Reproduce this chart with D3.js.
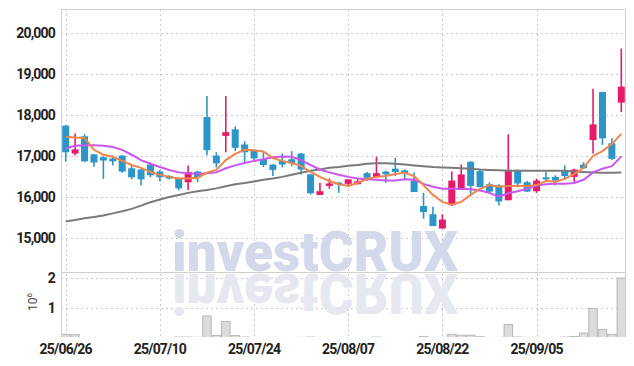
<!DOCTYPE html>
<html>
<head>
<meta charset="utf-8">
<script src="https://cdn.jsdelivr.net/npm/d3@7"></script>
<style>
  body { margin: 0; background: #fff; }
  #chart { width: 634px; height: 366px; }
  .lbl { font-family: Roboto, "DejaVu Sans", sans-serif; font-weight: bold; fill: #222; letter-spacing: -0.8px; }
</style>
</head>
<body>
<div id="chart"></div>
<script>
// trading days shown on the chart
var dates = ["25/06/26","25/06/27","25/06/30","25/07/01","25/07/02","25/07/03","25/07/04","25/07/07","25/07/08","25/07/09",
  "25/07/10","25/07/11","25/07/14","25/07/15","25/07/16","25/07/17","25/07/18","25/07/21","25/07/22","25/07/23",
  "25/07/24","25/07/25","25/07/28","25/07/29","25/07/30","25/07/31","25/08/01","25/08/04","25/08/05","25/08/06",
  "25/08/07","25/08/08","25/08/11","25/08/12","25/08/13","25/08/14","25/08/18","25/08/19","25/08/20","25/08/21",
  "25/08/22","25/08/25","25/08/26","25/08/27","25/08/28","25/08/29","25/09/01","25/09/02","25/09/03","25/09/04",
  "25/09/05","25/09/08","25/09/09","25/09/10","25/09/11","25/09/12","25/09/15","25/09/16","25/09/17","25/09/18"]

var open  = [17750,17070,17490,17050,16980,16950,17020,16710,16680,16800, 16630,16520,16460,16370,16630,17960,17020,17500,17660,17290,
             17130,16930,16800,16890,16930,17070,16560,16060,16280,16360, 16330,16320,16590,16500,16630,16700,16660,16410,15790,15590,
             15240,15810,16180,16870,16640,16320,16290,15930,16670,16370, 16150,16490,16500,16660,16500,16800,17400,18570,17320,18310]
var high  = [17760,17560,17540,17060,17000,17020,17030,16780,16690,16850, 16660,16540,16470,16780,16650,18470,17100,18470,17730,17370,
             17140,17100,16810,17070,17130,17080,16570,16360,16460,16370, 16440,16460,16620,16990,16650,16970,16680,16610,16110,15770,
             15590,16630,16800,16880,16680,16370,16320,17540,16680,16400, 16460,16620,16540,16780,16700,16860,18650,18580,17440,19630]
var low   = [16870,17020,16860,16750,16450,16780,16600,16440,16290,16490, 16390,16440,16170,16180,16370,17030,16730,17100,17130,16850,
             16910,16740,16520,16730,16760,16560,16070,16060,16210,16110, 16290,16320,16400,16500,16360,16520,16420,16130,15480,15300,
             15240,15790,16180,16070,16250,16120,15800,15930,16260,16130, 16110,16400,16290,16440,16370,16700,17070,17280,16910,18080]
var close = [17100,17170,16880,16850,16900,16880,16630,16490,16440,16540, 16490,16460,16220,16620,16490,17150,16830,17590,17210,17100,
             16950,16790,16670,16800,16830,16680,16100,16150,16340,16320, 16440,16390,16480,16590,16560,16620,16590,16130,15640,15300,
             15460,16410,16560,16280,16250,16140,15900,16670,16340,16140, 16410,16440,16410,16520,16680,16710,17780,17440,16940,18700]
var volume = [150000,140000,40000,30000,30000,30000,40000,30000,30000,30000, 40000,30000,60000,60000,50000,750000,110000,570000,110000,60000,
              40000,30000,50000,30000,40000,50000,60000,30000,30000,30000, 30000,40000,30000,60000,30000,30000,30000,40000,80000,40000,
              50000,150000,120000,120000,70000,40000,50000,470000,60000,50000, 50000,40000,40000,60000,80000,190000,1000000,310000,150000,1990000]

// moving averages
var ma5  = [17480,17460,17450,17160,17040,16990,16890,16790,16720,16620, 16550,16500,16460,16460,16480,16600,16670,16910,17060,17160,
            17150,17120,16960,16890,16840,16770,16620,16500,16400,16320, 16280,16350,16450,16500,16520,16570,16600,16520,16300,16060,
            15890,15820,15890,16060,16210,16300,16260,16280,16280,16280, 16300,16400,16380,16450,16570,16720,17010,17130,17300,17550]
var ma10 = [17195,17260,17270,17270,17260,17230,17160,17040,16910,16820, 16740,16670,16610,16590,16570,16590,16610,16710,16780,16840,
            16890,16930,16980,17000,16990,16910,16790,16680,16610,16550, 16500,16460,16440,16430,16410,16410,16440,16430,16330,16260,
            16210,16210,16210,16200,16170,16110,16020,16100,16150,16210, 16290,16320,16330,16330,16350,16430,16610,16700,16760,17000]
var ma60 = [15410,15450,15490,15520,15560,15610,15660,15720,15800,15880, 15950,16010,16060,16110,16150,16180,16220,16270,16320,16350,
            16390,16430,16460,16500,16550,16600,16650,16680,16720,16740, 16770,16790,16820,16830,16830,16820,16800,16780,16760,16740,
            16730,16720,16710,16700,16680,16670,16660,16650,16650,16650, 16650,16650,16650,16650,16630,16620,16610,16600,16600,16610]

var priceTicks = [15000, 16000, 17000, 18000, 19000, 20000]
var volTicks = [1, 2]
var dateTicks = ["25/06/26","25/07/10","25/07/24","25/08/07","25/08/22","25/09/05"]

var pLeft = 61, pRight = 626, pTop = 9, pSplit = 272, pBottom = 337

var svg = d3.select('#chart').append('svg')
    .attr('width', 634)
    .attr('height', 366)

var x = d3.scaleBand()
    .domain(dates)
    .range([pLeft, pRight])
var cx = function(d) { return x(d) + x.bandwidth() / 2 }

var y = d3.scaleLinear()
    .domain([14180, 20595])
    .range([pSplit, pTop])

var yv = d3.scaleLinear()
    .domain([0, 2.19e6])
    .range([338.9, pSplit])

svg.append('clipPath').attr('id', 'pclip')
  .append('rect').attr('x', pLeft).attr('y', pTop).attr('width', pRight - pLeft).attr('height', pSplit - pTop)
svg.append('clipPath').attr('id', 'vclip')
  .append('rect').attr('x', pLeft).attr('y', pSplit).attr('width', pRight - pLeft).attr('height', pBottom - pSplit)

// grid
var grid = svg.append('g').attr('stroke', '#c5c9dc').attr('stroke-dasharray', '2,3').attr('stroke-width', 1)
grid.selectAll('.hg').data(priceTicks).enter().append('line')
    .attr('x1', pLeft).attr('x2', pRight)
    .attr('y1', d => Math.round(y(d)) + 0.5).attr('y2', d => Math.round(y(d)) + 0.5)
grid.selectAll('.vg').data(volTicks).enter().append('line')
    .attr('x1', pLeft).attr('x2', pRight)
    .attr('y1', d => Math.round(yv(d * 1e6)) + 0.5).attr('y2', d => Math.round(yv(d * 1e6)) + 0.5)
grid.selectAll('.xg').data(dateTicks).enter().append('line')
    .attr('x1', d => Math.round(cx(d)) + 0.5).attr('x2', d => Math.round(cx(d)) + 0.5)
    .attr('y1', pTop).attr('y2', pBottom)

// watermark + reflection
var wm = svg.append('g').style('font-family', 'Roboto, "DejaVu Sans", sans-serif').style('font-weight', 900)
wm.append('text')
    .attr('x', 172).attr('y', 271)
    .attr('textLength', 286).attr('lengthAdjust', 'spacingAndGlyphs')
    .style('font-size', '56px').attr('fill', '#d3d8ea')
    .text('investCRUX')
wm.append('text')
    .attr('x', 172).attr('y', 271)
    .attr('transform', 'translate(0,545) scale(1,-1)')
    .attr('textLength', 286).attr('lengthAdjust', 'spacingAndGlyphs')
    .style('font-size', '56px').attr('fill', '#e6e8f0')
    .text('investCRUX')

// volume
svg.append('g').attr('clip-path', 'url(#vclip)')
  .selectAll('rect').data(dates).enter().append('rect')
    .attr('x', d => x(d) + 0.5)
    .attr('width', x.bandwidth() - 1)
    .attr('y', (d, i) => yv(volume[i]))
    .attr('height', (d, i) => Math.max(0, 338.9 - yv(volume[i])))
    .attr('fill', '#dcdcdc')
    .attr('stroke', '#b8b8b8')
    .attr('stroke-width', 1)

// candles
var up = '#e6196a', down = '#2d96c8'
var candles = svg.append('g').attr('clip-path', 'url(#pclip)')
  .selectAll('g').data(dates).enter().append('g')
candles.append('line')
    .attr('x1', d => cx(d)).attr('x2', d => cx(d))
    .attr('y1', (d, i) => y(high[i])).attr('y2', (d, i) => y(low[i]))
    .attr('stroke', (d, i) => close[i] >= open[i] ? up : down)
    .attr('stroke-width', 1.6)
candles.append('rect')
    .attr('x', d => cx(d) - 3.5)
    .attr('width', 7)
    .attr('y', (d, i) => y(Math.max(open[i], close[i])))
    .attr('height', (d, i) => Math.max(1.5, Math.abs(y(open[i]) - y(close[i]))))
    .attr('fill', (d, i) => close[i] >= open[i] ? up : down)

// moving averages
var line = d3.line().x((d, i) => cx(dates[i])).y(d => y(d))
var mas = svg.append('g').attr('clip-path', 'url(#pclip)').attr('fill', 'none').attr('stroke-width', 2)
mas.append('path').attr('d', line(ma60)).attr('stroke', '#7a7a7a')
mas.append('path').attr('d', line(ma10)).attr('stroke', '#c956ee')
mas.append('path').attr('d', line(ma5)).attr('stroke', '#f0844a')

// frame
var frame = svg.append('g').attr('stroke', '#cfcfcf').attr('stroke-width', 1)
frame.append('line').attr('x1', pLeft + 0.5).attr('x2', pLeft + 0.5).attr('y1', pTop).attr('y2', pBottom)
frame.append('line').attr('x1', pRight - 0.5).attr('x2', pRight - 0.5).attr('y1', pTop).attr('y2', pBottom)
frame.append('line').attr('x1', pLeft).attr('x2', pRight).attr('y1', pTop + 0.5).attr('y2', pTop + 0.5)
frame.append('line').attr('x1', pLeft).attr('x2', pRight).attr('y1', pSplit + 0.5).attr('y2', pSplit + 0.5)

// axis labels
svg.selectAll('.pl').data(priceTicks).enter().append('text')
    .attr('class', 'lbl')
    .attr('x', 55).attr('y', d => y(d))
    .attr('dy', '0.36em')
    .attr('text-anchor', 'end')
    .style('font-size', '14px')
    .text(d => d3.format(',')(d))
svg.selectAll('.vl').data(volTicks).enter().append('text')
    .attr('class', 'lbl')
    .attr('x', 55).attr('y', d => yv(d * 1e6))
    .attr('dy', '0.36em')
    .attr('text-anchor', 'end')
    .style('font-size', '14px')
    .text(d => d)
svg.selectAll('.dl').data(dateTicks).enter().append('text')
    .attr('class', 'lbl')
    .attr('x', d => cx(d)).attr('y', 354)
    .attr('text-anchor', 'middle')
    .style('font-size', '14px')
    .text(d => d)

var unit = svg.append('text')
    .attr('transform', 'translate(37,311) rotate(-90)')
    .style('font-family', 'Roboto, sans-serif')
    .style('font-size', '12px')
    .attr('fill', '#444')
unit.append('tspan').text('10')
unit.append('tspan').attr('dy', -5).style('font-size', '8px').text('6')
</script>
</body>
</html>
